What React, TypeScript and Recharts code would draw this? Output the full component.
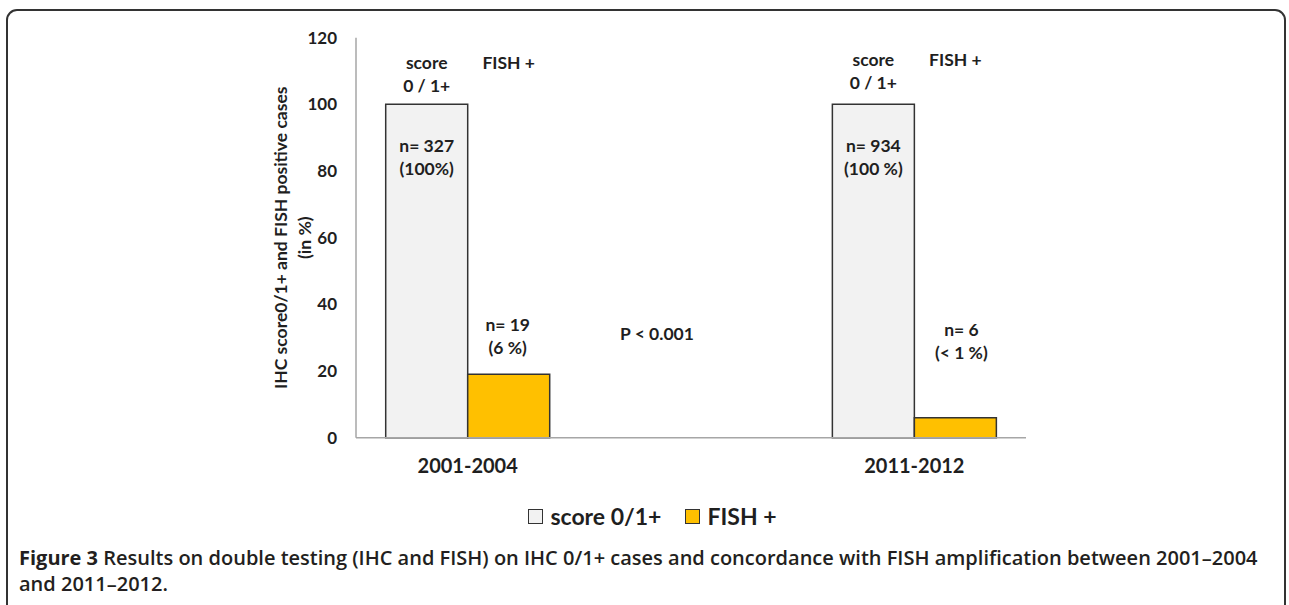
import React from 'react';
import { BarChart, Bar, XAxis, YAxis, Legend, LabelList, ReferenceDot } from 'recharts';

const periods = ['2001-2004', ' ', '2011-2012'];
const scoreValues = [100, null, 100];
const fishValues = [19, null, 6];
const scoreCounts = ['n= 327', '', 'n= 934'];
const scorePercents = ['(100%)', '', '(100 %)'];
const fishCounts = ['n= 19', '', 'n= 6'];
const fishPercents = ['(6 %)', '', '(< 1 %)'];
const yTicks = [0, 20, 40, 60, 80, 100, 120];
const pValueText = 'P < 0.001';

const data = periods.map((period, i) => ({
  period,
  score: scoreValues[i],
  fish: fishValues[i],
}));

const FONT = 'Lato, "Open Sans", sans-serif';
const INK = '#1f1f1f';

// label placement (pixels), kept apart from the data
const scoreHeadOffset = [0, 0, -3];
const fishNoteLift = [113, 0, 108];
const fishNoteShift = [-1, 0, 6];

const txt = (x: number, y: number, s: string, size = 17.5) => (
  <text
    x={x}
    y={y}
    textAnchor="middle"
    dominantBaseline="central"
    fontFamily={FONT}
    fontWeight={700}
    fontSize={size}
    fill={INK}
  >
    {s}
  </text>
);

const ScoreNotes = (props: any) => {
  const { x, y, width, value } = props;
  const i = periods.indexOf(value);
  if (i < 0 || scoreValues[i] == null) return null;
  const cx = Number(x) + Number(width) / 2;
  const top = Number(y);
  const h = scoreHeadOffset[i] || 0;
  return (
    <g>
      {txt(cx, top - 42 + h, 'score')}
      {txt(cx, top - 19 + h, '0 / 1+')}
      {txt(cx + Number(width), top - 42 + h, 'FISH +')}
      {txt(cx, top + 41, scoreCounts[i])}
      {txt(cx, top + 64, scorePercents[i])}
    </g>
  );
};

const FishNotes = (props: any) => {
  const { x, y, width, height, value } = props;
  const i = periods.indexOf(value);
  if (i < 0 || fishValues[i] == null) return null;
  const cx = Number(x) + Number(width) / 2 + fishNoteShift[i];
  const base = Number(y) + Number(height);
  const lift = fishNoteLift[i];
  return (
    <g>
      {txt(cx, base - lift, fishCounts[i])}
      {txt(cx, base - lift + 23, fishPercents[i])}
    </g>
  );
};

const YTitle = (props: any) => {
  const vb = props.viewBox || {};
  const cy = Number(vb.y) + Number(vb.height) / 2;
  const lines = [
    { x: 281, s: 'IHC score0/1+ and FISH positive cases' },
    { x: 305, s: '(in %)' },
  ];
  return (
    <g>
      {lines.map((l) => (
        <text
          key={l.s}
          x={l.x}
          y={cy}
          transform={`rotate(-90 ${l.x} ${cy})`}
          textAnchor="middle"
          dominantBaseline="central"
          fontFamily={FONT}
          fontWeight={700}
          fontSize={17.5}
          fill={INK}
        >
          {l.s}
        </text>
      ))}
    </g>
  );
};

const legendItems = [
  { label: 'score 0/1+', fill: '#f2f2f2' },
  { label: 'FISH +', fill: '#ffc000' },
];

const LegendBox = () => (
  <div
    style={{
      display: 'flex',
      justifyContent: 'center',
      alignItems: 'center',
      gap: 24,
      paddingLeft: 16,
      fontFamily: FONT,
      fontWeight: 700,
      fontSize: 23,
      color: INK,
    }}
  >
    {legendItems.map((it) => (
      <span key={it.label} style={{ display: 'flex', alignItems: 'center', gap: 7 }}>
        <span
          style={{
            display: 'inline-block',
            width: 13,
            height: 13,
            background: it.fill,
            border: '1.5px solid #333',
          }}
        />
        {it.label}
      </span>
    ))}
  </div>
);

const App: React.FC = () => {
  return (
    <div
      style={{
        position: 'fixed',
        left: 0,
        top: 0,
        width: 1289,
        height: 605,
        overflow: 'hidden',
        background: '#fff',
      }}
    >
      <div
        style={{
          position: 'absolute',
          left: 6,
          top: 9,
          width: 1276,
          height: 700,
          border: '2px solid #333',
          borderRadius: 11,
        }}
      />
      <div style={{ position: 'absolute', left: 0, top: 0 }}>
        <BarChart
          width={1289}
          height={540}
          data={data}
          margin={{ top: 37.7, right: 263, bottom: 42.3, left: 296 }}
          barCategoryGap="13.3%"
          barGap={0}
        >
          <XAxis
            dataKey="period"
            axisLine={{ stroke: '#a6a6a6', strokeWidth: 1.5 }}
            tickLine={false}
            height={60}
            tickMargin={15}
            tick={{ fontFamily: FONT, fontWeight: 700, fontSize: 20, fill: INK }}
          />
          <YAxis
            width={60}
            domain={[0, 120]}
            ticks={yTicks}
            axisLine={{ stroke: '#a6a6a6', strokeWidth: 1.5 }}
            tickLine={false}
            tickMargin={13}
            tick={{ fontFamily: FONT, fontWeight: 700, fontSize: 17, fill: INK }}
            label={<YTitle />}
          />
          <Legend
            layout="horizontal"
            verticalAlign="middle"
            align="center"
            wrapperStyle={{ top: 502, left: 0, width: 1289 }}
            content={<LegendBox />}
          />
          <Bar
            dataKey="score"
            name="score 0/1+"
            fill="#f2f2f2"
            stroke="#333"
            strokeWidth={1.5}
            isAnimationActive={false}
          >
            <LabelList dataKey="period" content={<ScoreNotes />} />
          </Bar>
          <Bar
            dataKey="fish"
            name="FISH +"
            fill="#ffc000"
            stroke="#333"
            strokeWidth={1.5}
            isAnimationActive={false}
          >
            <LabelList dataKey="period" content={<FishNotes />} />
          </Bar>
          <ReferenceDot
            x={periods[1]}
            y={31.4}
            r={0}
            stroke="none"
            fill="none"
            label={(p: any) => txt(Number(p.viewBox?.x ?? 0) - 34, Number(p.viewBox?.y ?? 0), pValueText)}
          />
        </BarChart>
      </div>
      <div
        style={{
          position: 'absolute',
          left: 19,
          top: 545,
          fontFamily: '"Open Sans", sans-serif',
          fontWeight: 600,
          fontSize: 20,
          lineHeight: '26px',
          color: '#231f20',
          whiteSpace: 'nowrap',
        }}
      >
        <b style={{ fontWeight: 700 }}>Figure 3</b> Results on double testing (IHC and FISH) on IHC 0/1+ cases and
        concordance with FISH amplification between 2001–2004
        <br />
        and 2011–2012.
      </div>
    </div>
  );
};

export default App;
